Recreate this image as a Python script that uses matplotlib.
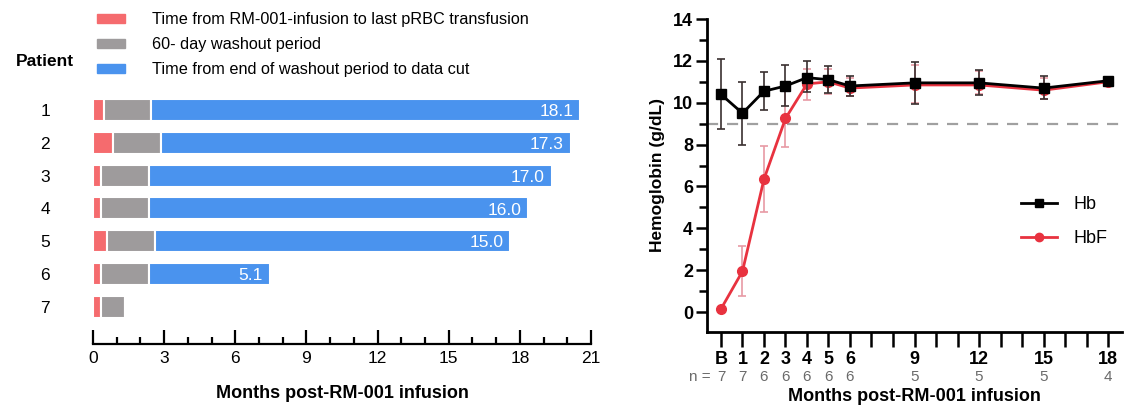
import matplotlib
matplotlib.use("Agg")
import matplotlib.pyplot as plt
from matplotlib.patches import Patch
from matplotlib.lines import Line2D
from matplotlib.ticker import MultipleLocator
import numpy as np

plt.rcParams['font.family'] = ['Liberation Sans', 'DejaVu Sans']

# ---- left panel data (months) ----
patients = ["1", "2", "3", "4", "5", "6", "7"]
transfusion = [0.45, 0.85, 0.35, 0.35, 0.6, 0.35, 0.35]
washout = [2.0, 2.0, 2.0, 2.0, 2.0, 2.0, 1.0]
post_washout = [18.1, 17.3, 17.0, 16.0, 15.0, 5.1, 0.0]
post_labels = ["18.1", "17.3", "17.0", "16.0", "15.0", "5.1", ""]

# ---- right panel data ----
month_pos = [0, 1, 2, 3, 4, 5, 6, 9, 12, 15, 18]
month_labels = ["B", "1", "2", "3", "4", "5", "6", "9", "12", "15", "18"]
n_counts = ["7", "7", "6", "6", "6", "6", "6", "5", "5", "5", "4"]
hb = [10.4, 9.5, 10.55, 10.8, 11.2, 11.1, 10.8, 10.95, 10.95, 10.7, 11.05]
hb_low = [8.75, 8.0, 9.65, 9.85, 10.5, 10.45, 10.3, 9.95, 10.35, 10.2, 11.05]
hb_high = [12.1, 11.0, 11.45, 11.8, 12.0, 11.75, 11.3, 11.95, 11.55, 11.3, 11.05]
hbf = [0.15, 1.95, 6.35, 9.25, 10.9, 11.0, 10.7, 10.85, 10.85, 10.6, 11.0]
hbf_low = [0.15, 0.75, 4.8, 7.9, 10.15, 10.4, 10.3, 10.0, 10.4, 10.2, 11.0]
hbf_high = [0.15, 3.15, 7.95, 10.6, 11.6, 11.6, 11.2, 11.8, 11.5, 11.2, 11.0]

RED = "#F56B6E"
GRAY = "#9E9B9C"
BLUE = "#4A93EE"

W, H = 1124, 407
fig = plt.figure(figsize=(W / 100, H / 100), dpi=100)


def fx(px):
    return px / W


def fy(py):
    return 1 - py / H


# ---------------- left: swimmer bars ----------------
ax1 = fig.add_axes([fx(93), fy(344), fx(591) - fx(93), fy(90) - fy(344)])
ypos = np.arange(1, len(patients) + 1)
left2 = np.array(transfusion)
left3 = left2 + np.array(washout)
ax1.barh(ypos, transfusion, height=0.67, color=RED, edgecolor="white", linewidth=1.5)
ax1.barh(ypos, washout, left=left2, height=0.67, color=GRAY, edgecolor="white", linewidth=1.5)
ax1.barh(ypos, post_washout, left=left3, height=0.67, color=BLUE, edgecolor="white", linewidth=1.5)
for y, l, v, lab in zip(ypos, left3, post_washout, post_labels):
    if lab:
        ax1.text(l + v - 0.3, y + 0.05, lab, color="white", ha="right", va="center", fontsize=12.5)

ax1.set_xlim(0, 21)
ax1.set_ylim(8.13, 0.39)
ax1.xaxis.set_major_locator(MultipleLocator(3))
ax1.xaxis.set_minor_locator(MultipleLocator(1))
ax1.tick_params(axis="x", which="major", direction="in", length=10, width=1.6, labelsize=12.5, pad=5)
ax1.tick_params(axis="x", which="minor", direction="in", length=5, width=1.6)
ax1.set_yticks(ypos)
ax1.set_yticklabels(patients)
ax1.tick_params(axis="y", length=0, labelsize=12.5, pad=31)
for s in ["top", "right", "left"]:
    ax1.spines[s].set_visible(False)
ax1.spines["bottom"].set_linewidth(1.6)
ax1.set_xlabel("Months post-RM-001 infusion", fontsize=13, fontweight="bold", labelpad=14)

fig.text(fx(45), fy(62), "Patient", ha="center", va="center", fontsize=12.5, fontweight="bold")

handles = [Patch(color=RED), Patch(color=GRAY), Patch(color=BLUE)]
labels = ["Time from RM-001-infusion to last pRBC transfusion",
          "60- day washout period",
          "Time from end of washout period to data cut"]
fig.legend(handles, labels, loc="upper left", bbox_to_anchor=(fx(97), fy(12)),
           frameon=False, fontsize=11.7, handlelength=1.7, handleheight=0.45,
           handletextpad=1.7, labelspacing=0.62, borderpad=0, borderaxespad=0)

# ---------------- right: hemoglobin ----------------
ax2 = fig.add_axes([fx(707), fy(332), fx(1122) - fx(707), fy(19) - fy(332)])
ax2.axhline(9, color="#A0A0A0", linestyle=(0, (5, 4)), linewidth=1.6, zorder=1)

hbf_arr = np.array(hbf)
hb_arr = np.array(hb)
ax2.errorbar(month_pos, hbf,
             yerr=[hbf_arr - np.array(hbf_low), np.array(hbf_high) - hbf_arr],
             color="#E8323F", ecolor="#E79AA4", elinewidth=1.2, capsize=3, capthick=1.2,
             marker="o", markersize=7, linewidth=2, zorder=2)
ax2.errorbar(month_pos, hb,
             yerr=[hb_arr - np.array(hb_low), np.array(hb_high) - hb_arr],
             color="black", ecolor="#3A3030", elinewidth=1.2, capsize=3, capthick=1.2,
             marker="s", markersize=7, linewidth=2, zorder=3)

ax2.set_xlim(-0.65, 18.65)
ax2.set_ylim(-0.95, 14)
ax2.set_xticks(np.arange(0, 19, 1), minor=True)
ax2.set_xticks(month_pos)
ax2.set_xticklabels(month_labels, fontweight="bold")
ax2.tick_params(axis="x", which="both", direction="out", length=11, width=1.8, labelsize=13, pad=3)
ax2.yaxis.set_major_locator(MultipleLocator(2))
ax2.yaxis.set_minor_locator(MultipleLocator(1))
ax2.tick_params(axis="y", which="major", direction="out", length=8, width=1.8, labelsize=13, pad=2)
ax2.tick_params(axis="y", which="minor", direction="out", length=6, width=1.8)
for lab in ax2.get_yticklabels():
    lab.set_fontweight("bold")
for s in ["top", "right"]:
    ax2.spines[s].set_visible(False)
for s in ["left", "bottom"]:
    ax2.spines[s].set_linewidth(2)
ax2.set_ylabel("Hemoglobin (g/dL)", fontsize=12.5, fontweight="bold", labelpad=6)
ax2.set_xlabel("Months post-RM-001 infusion", fontsize=13, fontweight="bold", labelpad=14)

trans = ax2.get_xaxis_transform()
ny = (332 - 377) / (332 - 19)
ax2.text(-1.0, ny, "n =", transform=trans, ha="center", va="center", fontsize=11, color="#6A6A6A")
for x, n in zip(month_pos, n_counts):
    ax2.text(x, ny, n, transform=trans, ha="center", va="center", fontsize=11, color="#6A6A6A")

leg_handles = [Line2D([], [], color="black", marker="s", markersize=6, linewidth=2),
               Line2D([], [], color="#E8323F", marker="o", markersize=6, linewidth=2)]
fig.legend(leg_handles, ["Hb", "HbF"], loc="upper left", bbox_to_anchor=(fx(1021), fy(196)),
           frameon=False, fontsize=13, handlelength=2.0, handletextpad=0.9,
           labelspacing=0.95, borderpad=0, borderaxespad=0)

fig.savefig("out.png", dpi=100)
